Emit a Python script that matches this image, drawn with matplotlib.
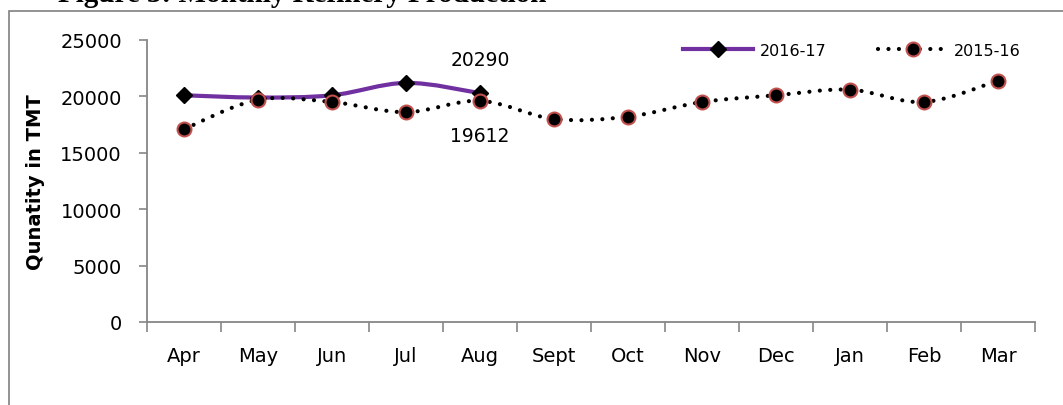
import numpy as np
import matplotlib.pyplot as plt
from matplotlib.path import Path
from matplotlib.patches import PathPatch, Rectangle
from matplotlib.lines import Line2D

months = ['Apr', 'May', 'Jun', 'Jul', 'Aug', 'Sept', 'Oct', 'Nov', 'Dec', 'Jan', 'Feb', 'Mar']
prod_1617 = [20100, 19900, 20100, 21200, 20290]
prod_1516 = [17100, 19700, 19500, 18600, 19612, 18000, 18200, 19500, 20100, 20600, 19500, 21400]
yticks = [0, 5000, 10000, 15000, 20000, 25000]


def smooth_path(ys):
    # excel-like smoothed line: cubic bezier through the points
    xs = np.arange(len(ys), dtype=float)
    pts = np.column_stack([xs, np.asarray(ys, dtype=float)])
    verts = [pts[0]]
    codes = [Path.MOVETO]
    n = len(pts)
    for i in range(n - 1):
        p0 = pts[i - 1] if i > 0 else pts[i]
        p1 = pts[i]
        p2 = pts[i + 1]
        p3 = pts[i + 2] if i + 2 < n else pts[i + 1]
        c1 = p1 + (p2 - p0) / 6.0
        c2 = p2 - (p3 - p1) / 6.0
        verts += [c1, c2, p2]
        codes += [Path.CURVE4] * 3
    return Path(verts, codes)


fig = plt.figure(figsize=(10.63, 4.06), dpi=100)
ax = fig.add_axes([147 / 1063, 1 - 323 / 406, 888 / 1063, 282 / 406])

purple = '#7030A0'
dots = (0, (0.01, 2.5))
ax.add_patch(PathPatch(smooth_path(prod_1617), fc='none', ec=purple, lw=3, capstyle='round', zorder=3))
ax.plot(range(len(prod_1617)), prod_1617, ls='none', marker='D', ms=8, color='k', zorder=4)

ax.add_patch(PathPatch(smooth_path(prod_1516), fc='none', ec='k', lw=3, capstyle='round',
                       ls=dots, zorder=5))
ax.plot(range(len(prod_1516)), prod_1516, ls='none', marker='o', ms=10, mfc='k', mec='#C0504D', mew=1.5, zorder=6)

ax.text(4, 22400, '20290', ha='center', va='bottom', fontsize=13.5)
ax.text(4, 17400, '19612', ha='center', va='top', fontsize=13.5)

ax.set_xlim(-0.5, 11.5)
ax.set_ylim(0, 25000)
ax.set_yticks(yticks)
ax.set_xticks(range(12))
ax.set_xticklabels(months)
ax.set_xticks(np.arange(-0.5, 12, 1), minor=True)
ax.tick_params(axis='x', which='major', length=0, pad=17, labelsize=14)
ax.tick_params(axis='x', which='minor', length=7, width=1.2, color='#868686', direction='out')
ax.tick_params(axis='y', length=6, width=1.2, color='#868686', pad=12, labelsize=14)
for s in ['top', 'right']:
    ax.spines[s].set_visible(False)
for s in ['left', 'bottom']:
    ax.spines[s].set_color('#868686')
    ax.spines[s].set_linewidth(1.3)
ax.set_ylabel('Qunatity in TMT', fontsize=14, fontweight='bold', labelpad=11)

h1 = Line2D([], [], color=purple, lw=3, marker='D', ms=8, mfc='k', mec='k')
h2 = Line2D([], [], color='k', lw=3, ls=dots, dash_capstyle='round',
            marker='o', ms=10, mfc='k', mec='#C0504D', mew=1.5)
ax.legend([h1, h2], ['2016-17', '2015-16'], loc='center left', bbox_to_anchor=(683 / 1063, 1 - 51 / 406),
          bbox_transform=fig.transFigure, ncol=2, frameon=False, fontsize=11.5, handlelength=4.4,
          handletextpad=0.4, columnspacing=3.2, borderaxespad=0, borderpad=0)

# page frame and caption cut at the top edge
fig.add_artist(Rectangle((8.5 / 1063, -0.2), 1.2, 1.2 - 12 / 406, transform=fig.transFigure,
                         fill=False, ec='#808080', lw=1.2))
fig.text(58 / 1063, 1 - 1.5 / 406, 'Figure 3: Monthly Refinery Production', fontsize=21,
         fontweight='bold', family='Liberation Serif', va='baseline', ha='left')

fig.savefig('out.png', dpi=100)
